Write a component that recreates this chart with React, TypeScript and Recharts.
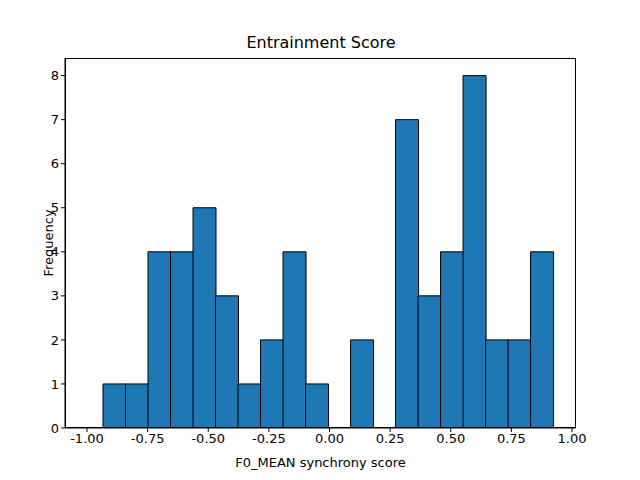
import { Bar, BarChart, XAxis, YAxis } from "recharts";

const binStart = -0.934;
const binWidth = 0.0928;
const counts = [1, 1, 4, 4, 5, 3, 1, 2, 4, 1, 0, 2, 0, 7, 3, 4, 8, 2, 2, 4];
const xTicks = [-1.0, -0.75, -0.5, -0.25, 0.0, 0.25, 0.5, 0.75, 1.0];
const yTicks = [0, 1, 2, 3, 4, 5, 6, 7, 8];

const data = counts.map((c, i) => ({ center: binStart + (i + 0.5) * binWidth, count: c }));

const tickStyle = { fill: "#000", fontSize: 13, fontFamily: "DejaVu Sans" };

export default function App() {
  return (
    <div style={{ position: "absolute", left: 0, top: 0, width: 640, height: 480, background: "#fff", fontFamily: "DejaVu Sans" }}>
      <div style={{ position: "absolute", top: 33, width: 640, textAlign: "center", fontSize: 16, paddingLeft: 1 }}>Entrainment Score</div>
      <div style={{ position: "absolute", top: 455, left: 65, width: 511, textAlign: "center", fontSize: 13 }}>F0_MEAN synchrony score</div>
      <div style={{ position: "absolute", left: 48, top: 243, fontSize: 13, transform: "translate(-50%,-50%) rotate(-90deg)", whiteSpace: "nowrap" }}>Frequency</div>
      <BarChart width={640} height={480} data={data} barCategoryGap={0} margin={{ top: 58, right: 64, bottom: 0, left: 0 }}>
        <XAxis dataKey="center" type="number" domain={[-1.0907, 1.0165]} ticks={xTicks} allowDataOverflow height={52}
          tickFormatter={(v: number) => v.toFixed(2)} tick={tickStyle} stroke="#000" tickSize={4} tickMargin={2} />
        <YAxis domain={[0, 8.4]} ticks={yTicks} width={65} tick={tickStyle} stroke="#000" tickSize={4} tickMargin={2} allowDataOverflow />
        <Bar dataKey="count" fill="#1f77b4" stroke="#000" strokeWidth={1} isAnimationActive={false} />
      </BarChart>
      <div style={{ position: "absolute", left: 65, top: 58, width: 511, height: 370, border: "1px solid #000", boxSizing: "border-box", pointerEvents: "none" }} />
    </div>
  );
}
